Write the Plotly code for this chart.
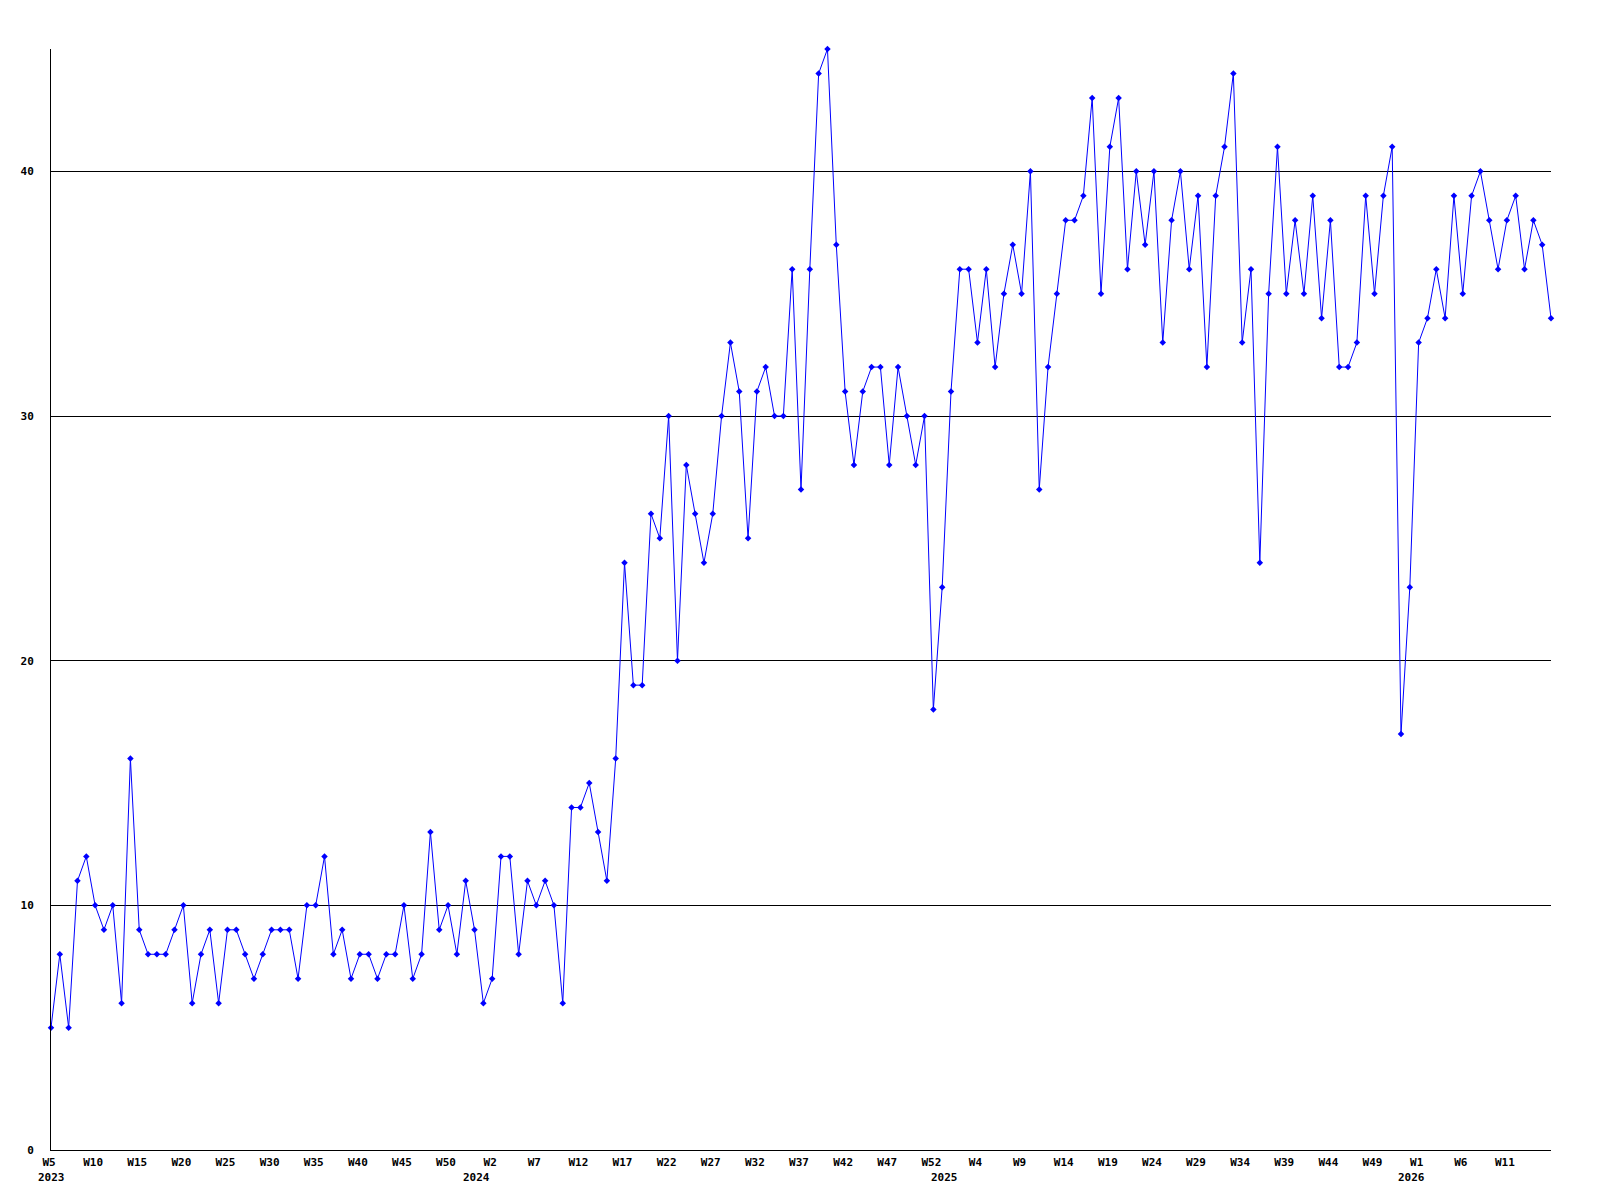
import plotly.graph_objects as go

# Weekly values, 2023 W5 .. 2026 (one point per week)
values = [
    5, 8, 5, 11, 12, 10, 9, 10, 6, 16, 9, 8, 8, 8, 9, 10, 6, 8, 9, 6, 9, 9, 8,
    7, 8, 9, 9, 9, 7, 10, 10, 12, 8, 9, 7, 8, 8, 7, 8, 8, 10, 7, 8, 13, 9,
    10, 8, 11, 9, 6, 7, 12, 12, 8, 11, 10, 11, 10, 6, 14, 14, 15, 13, 11, 16,
    24, 19, 19, 26, 25, 30, 20, 28, 26, 24, 26, 30, 33, 31, 25, 31, 32, 30, 30,
    36, 27, 36, 44, 45, 37, 31, 28, 31, 32, 32, 28, 32, 30, 28, 30, 18, 23, 31,
    36, 36, 33, 36, 32, 35, 37, 35, 40, 27, 32, 35, 38, 38, 39, 43, 35,
    41, 43, 36, 40, 37, 40, 33, 38, 40, 36, 39, 32, 39, 41, 44, 33, 36, 24, 35, 41,
    35, 38, 35, 39, 34, 38, 32, 32, 33, 39, 35, 39, 41, 17, 23, 33, 34, 36, 34, 39,
    35, 39, 40, 38, 36, 38, 39, 36, 38, 37, 34,
]

# Axis tick labels, one every 5 weeks starting with the first point
tick_labels = [
    "W5", "W10", "W15", "W20", "W25", "W30", "W35", "W40", "W45", "W50",
    "W2", "W7", "W12", "W17", "W22", "W27", "W32", "W37", "W42", "W47", "W52",
    "W4", "W9", "W14", "W19", "W24", "W29", "W34", "W39", "W44", "W49",
    "W1", "W6", "W11",
]
tick_step = 5

# Year labels and the week index (first week of each year) they sit under
year_labels = ["2023", "2024", "2025", "2026"]
year_index = [0, 49, 102, 155]

y_ticks = [0, 10, 20, 30, 40]

x = list(range(len(values)))
tick_pos = [i * tick_step for i in range(len(tick_labels))]

font = dict(family="DejaVu Sans Mono", size=11, color="black", weight="bold")

fig = go.Figure()
fig.add_trace(go.Scatter(
    x=x, y=values, mode="lines+markers",
    line=dict(color="#0000ff", width=1),
    marker=dict(symbol="diamond", size=5, color="#0000ff"),
    cliponaxis=False,
    showlegend=False,
))

for k, (lab, idx) in enumerate(zip(year_labels, year_index)):
    fig.add_annotation(
        x=idx, y=0, xref="x", yref="paper", text=lab, showarrow=False,
        xanchor="center", yanchor="top", yshift=-19,
        xshift=0 if k == 0 else -7, font=font,
    )

fig.update_layout(
    width=1600, height=1200,
    margin=dict(l=43, r=57, t=41, b=58),
    paper_bgcolor="white", plot_bgcolor="white",
    font=font,
)
fig.update_xaxes(
    range=[0, len(values) - 1], tickmode="array", tickvals=tick_pos, ticktext=tick_labels,
    showgrid=False, zeroline=False, showline=True, linecolor="black", linewidth=1,
    ticks="", tickfont=font, ticklabelstandoff=2, ticklabelshift=-2, tickangle=0,
)
fig.update_yaxes(
    range=[0, 45], tickmode="array", tickvals=y_ticks, ticktext=[str(v) for v in y_ticks],
    showgrid=True, gridcolor="black", gridwidth=1, zeroline=False,
    showline=True, linecolor="black", linewidth=1, ticks="", tickfont=font,
    ticklabelstandoff=14,
)

fig.write_html("out.html")
